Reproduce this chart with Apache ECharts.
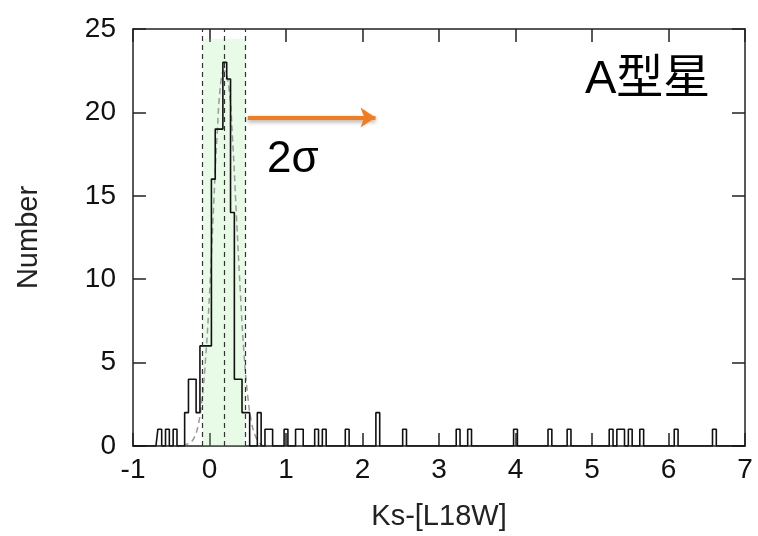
<!DOCTYPE html>
<html>
<head>
<meta charset="utf-8">
<script src="https://cdn.jsdelivr.net/npm/echarts@6/dist/echarts.min.js"></script>
<style>html,body{margin:0;padding:0;background:#fff;}#c{width:758px;height:536px;}</style>
</head>
<body>
<div id="c"></div>
<script>
// Histogram bins (bin width 0.05), centers and counts (non-empty bins only)
const binCenters = [-0.65,-0.55,-0.45,-0.30,-0.25,-0.20,-0.15,-0.10,-0.05,0.00,0.05,0.10,0.15,0.20,0.25,0.30,0.35,0.40,0.45,0.50,0.65,0.75,0.80,1.00,1.15,1.20,1.40,1.50,1.80,2.20,2.55,3.25,3.40,4.00,4.45,4.70,5.25,5.35,5.40,5.50,5.65,6.10,6.60];
const binCounts  = [1,1,1,2,4,4,2,6,6,6,16,19,19,23,22,14,4,4,2,2,2,1,1,1,1,1,1,1,1,2,1,1,1,1,1,1,1,1,1,1,1,1,1];
// Gaussian fit curve
const fitX = [-0.35,-0.30,-0.25,-0.20,-0.15,-0.10,-0.05,0.00,0.05,0.10,0.15,0.19,0.25,0.30,0.35,0.40,0.45,0.50,0.55,0.60,0.65,0.70];
const fitY = [0.0,0.1,0.2,0.5,1.2,2.7,5.3,9.1,14.0,18.7,21.9,22.5,21.6,18.5,14.0,9.5,5.6,3.0,1.4,0.6,0.2,0.0];
// mean and +-2 sigma lines, shaded band
const sigmaLines = [-0.09, 0.19, 0.47];
const bandRange = [-0.09, 0.47];
const bandTop = 24.4;
// arrow annotation
const arrowFrom = [0.50, 19.7];
const arrowTo = [2.17, 19.7];
const xTicks = {min:-1, max:7, step:1};
const yTicks = {min:0, max:25, step:5};
const labelA = 'A型星';
const label2s = '2σ';

const binMap = new Map();
binCenters.forEach((c,i)=>binMap.set(Math.round(c*100), binCounts[i]));
const histData = [];
for (let k = -20; k <= 140; k++) {
  const key = k*5;
  histData.push([key/100, binMap.get(key) || 0]);
}

const FONT = 'Liberation Sans, Arial, sans-serif';
const axisCommon = {
  axisLine:{show:true, onZero:false, lineStyle:{color:'#222', width:1.5}},
  axisTick:{show:true, inside:true, length:13, lineStyle:{color:'#222', width:1.5}},
  splitLine:{show:false}
};
const chart = echarts.init(document.getElementById('c'));
chart.setOption({
  animation:false,
  backgroundColor:'#fff',
  grid:{left:133, right:13, top:29, bottom:90},
  xAxis:[
    Object.assign({type:'value', min:xTicks.min, max:xTicks.max, interval:xTicks.step,
      axisLabel:{fontSize:28, color:'#111', margin:10, fontFamily:FONT},
      name:'Ks-[L18W]', nameLocation:'middle', nameGap:56,
      nameTextStyle:{fontSize:29, color:'#222', fontFamily:FONT}}, axisCommon),
    Object.assign({type:'value', position:'top', min:xTicks.min, max:xTicks.max, interval:xTicks.step,
      axisLabel:{show:false}}, axisCommon)
  ],
  yAxis:[
    Object.assign({type:'value', min:yTicks.min, max:yTicks.max, interval:yTicks.step,
      axisLabel:{fontSize:28, color:'#111', margin:17, fontFamily:FONT},
      name:'Number', nameLocation:'middle', nameGap:90,
      nameTextStyle:{fontSize:29, color:'#222', fontFamily:FONT}}, axisCommon),
    Object.assign({type:'value', position:'right', min:yTicks.min, max:yTicks.max, interval:yTicks.step,
      axisLabel:{show:false}}, axisCommon)
  ],
  series:[
    {type:'line', name:'fit', data:fitX.map((x,i)=>[x,fitY[i]]), smooth:true, showSymbol:false,
      lineStyle:{color:'#9a9a9a', width:1.5, type:[6,4]}, z:2, silent:true},
    {type:'line', name:'hist', data:histData, step:'middle', showSymbol:false,
      lineStyle:{color:'#111', width:1.6}, z:3, silent:true},
    {type:'line', name:'band', data:[], z:4, silent:true,
      markArea:{silent:true, itemStyle:{color:'rgba(144,238,144,0.22)'},
        data:[[{xAxis:bandRange[0], yAxis:0},{xAxis:bandRange[1], yAxis:bandTop}]]},
      markLine:{silent:true, symbol:'none', label:{show:false},
        lineStyle:{type:[5,4], color:'#333', width:1.2},
        data:sigmaLines.map(v=>({xAxis:v}))}},
    {type:'line', name:'arrow', data:[], z:5, silent:true,
      markLine:{silent:true, symbol:['none','arrow'], symbolSize:15, label:{show:false},
        lineStyle:{type:'solid', color:'#F57C1C', width:4, shadowColor:'rgba(0,0,0,0.35)', shadowBlur:4, shadowOffsetY:2},
        data:[[{coord:arrowFrom},{coord:arrowTo}]]}}
  ],
  graphic:[
    {type:'text', left:585, top:57, style:{text:labelA, fontSize:47, fill:'#000', fontFamily:'Liberation Sans, Noto Sans CJK JP, sans-serif'}},
    {type:'text', left:267, top:138, style:{text:label2s, fontSize:44, fill:'#000', fontFamily:'Liberation Sans, sans-serif'}}
  ]
});
</script>
</body>
</html>
